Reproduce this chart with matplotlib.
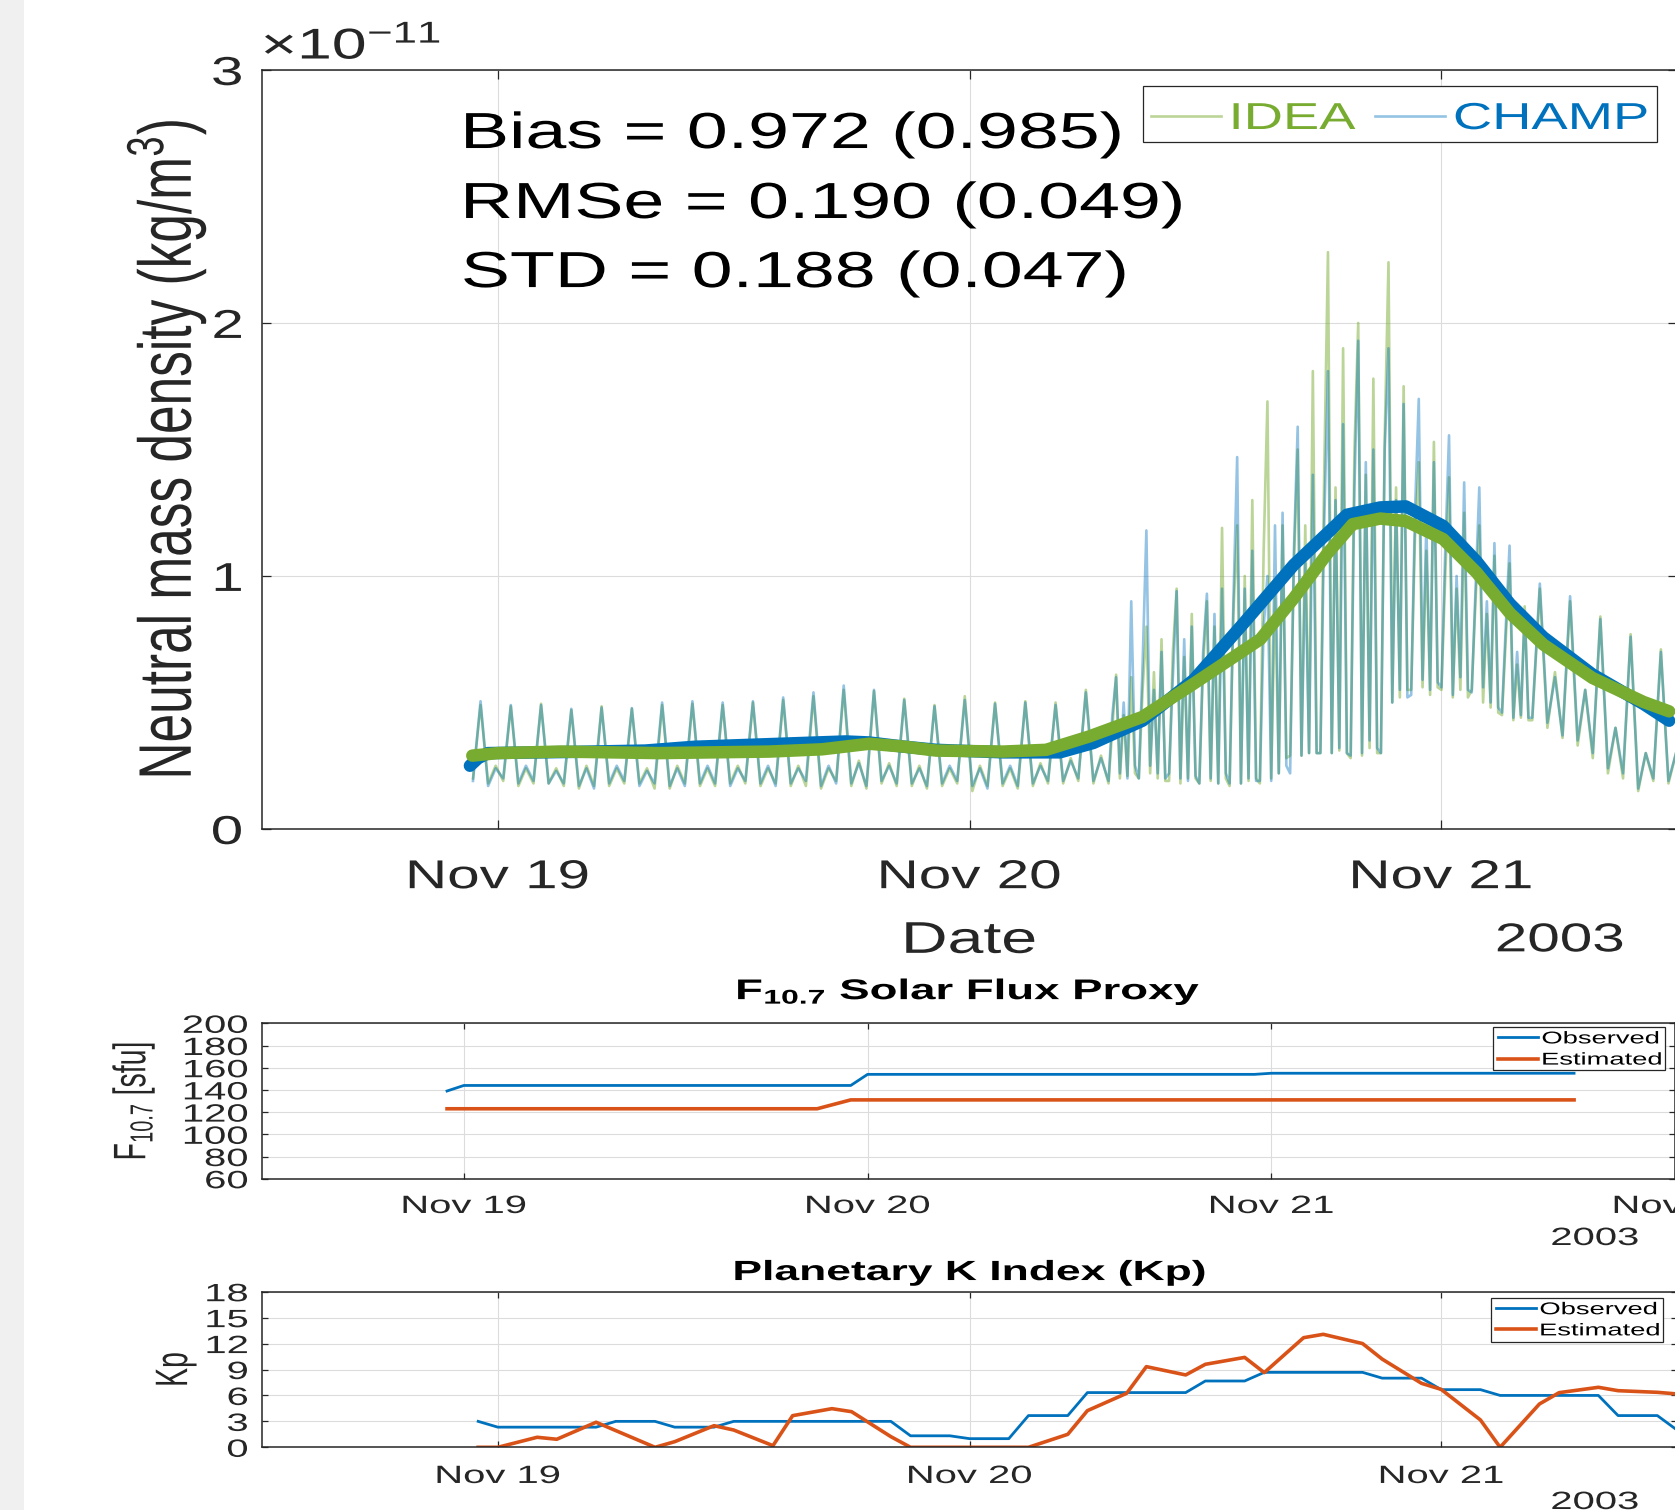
import numpy as np
import matplotlib
matplotlib.use('Agg')
import matplotlib.pyplot as plt
import matplotlib.dates as mdates
from matplotlib.ticker import ScalarFormatter
from matplotlib.patheffects import AbstractPathEffect
from matplotlib.transforms import Affine2D
from matplotlib.patches import Rectangle

plt.rcParams['font.family'] = ['Liberation Sans', 'DejaVu Sans']
plt.rcParams['mathtext.fontset'] = 'custom'
plt.rcParams['mathtext.rm'] = 'Liberation Sans'
plt.rcParams['mathtext.it'] = 'Liberation Sans:italic'
plt.rcParams['mathtext.bf'] = 'Liberation Sans:bold'

# ---------------------------------------------------------------- DATA
BASE = np.datetime64('2003-11-19T00:00')

# main panel: neutral mass density in units of 1e-11 kg/m^3
orbit_period_h = 1.54
first_sample_h = -1.265
# each row = one orbit, samples evenly spaced within the orbit
# quiet orbits: [trough before, peak, trough after, secondary bump]
# storm orbits: 8 samples per orbit (peak at the 3rd sample)
champ_orbits = [
    [0.19, 0.505, 0.17, 0.24], [0.20, 0.490, 0.18, 0.25], [0.19, 0.490, 0.18, 0.23],
    [0.18, 0.475, 0.17, 0.24], [0.16, 0.480, 0.18, 0.25], [0.19, 0.478, 0.17, 0.23],
    [0.18, 0.500, 0.17, 0.24], [0.17, 0.505, 0.18, 0.25], [0.18, 0.500, 0.17, 0.24],
    [0.19, 0.505, 0.18, 0.25], [0.17, 0.520, 0.18, 0.24], [0.19, 0.540, 0.17, 0.25],
    [0.18, 0.567, 0.18, 0.26], [0.17, 0.550, 0.19, 0.25], [0.18, 0.510, 0.18, 0.24],
    [0.17, 0.485, 0.18, 0.25], [0.19, 0.510, 0.17, 0.24], [0.16, 0.495, 0.18, 0.25],
    [0.17, 0.500, 0.18, 0.25], [0.19, 0.490, 0.19, 0.27], [0.20, 0.540, 0.19, 0.28],
    [0.19, 0.45, 0.60, 0.22, 0.50, 0.20, 0.90, 0.25],
    [0.20, 0.65, 1.18, 0.25, 0.55, 0.22, 0.70, 0.20],
    [0.22, 0.60, 0.94, 0.20, 0.75, 0.19, 0.80, 0.21],
    [0.18, 0.70, 0.93, 0.20, 0.85, 0.18, 0.95, 0.22],
    [0.18, 0.90, 1.47, 0.18, 0.95, 0.20, 1.10, 0.19],
    [0.19, 0.80, 1.00, 0.19, 1.20, 0.22, 1.25, 0.25],
    [0.22, 1.10, 1.59, 0.29, 1.05, 0.30, 1.40, 0.30],
    [0.30, 1.20, 1.81, 0.30, 1.30, 0.32, 1.60, 0.30],
    [0.29, 1.35, 1.93, 0.30, 1.45, 0.35, 1.50, 0.32],
    [0.30, 1.50, 1.90, 0.50, 1.30, 0.55, 1.68, 0.52],
    [0.53, 1.25, 1.70, 0.59, 1.20, 0.55, 1.45, 0.58],
    [0.56, 1.10, 1.556, 0.53, 1.00, 0.60, 1.37, 0.55],
    [0.54, 0.95, 1.35, 0.56, 0.90, 0.50, 1.13, 0.48],
    [0.46, 0.80, 1.12, 0.44, 0.70, 0.45, 0.86, 0.44],
    [0.44, 0.970, 0.42, 0.60], [0.37, 0.920, 0.35, 0.55], [0.30, 0.830, 0.24, 0.40],
    [0.22, 0.760, 0.16, 0.30], [0.20, 0.700, 0.19, 0.30],
]
idea_orbits = [
    [0.20, 0.490, 0.18, 0.25], [0.19, 0.485, 0.17, 0.24], [0.18, 0.495, 0.18, 0.24],
    [0.17, 0.470, 0.16, 0.25], [0.17, 0.485, 0.17, 0.24], [0.18, 0.475, 0.18, 0.24],
    [0.16, 0.490, 0.16, 0.25], [0.18, 0.495, 0.17, 0.24], [0.17, 0.490, 0.18, 0.25],
    [0.18, 0.500, 0.17, 0.24], [0.18, 0.510, 0.17, 0.25], [0.17, 0.525, 0.16, 0.24],
    [0.19, 0.550, 0.17, 0.27], [0.16, 0.545, 0.18, 0.26], [0.17, 0.515, 0.17, 0.25],
    [0.16, 0.490, 0.17, 0.24], [0.18, 0.525, 0.15, 0.25], [0.17, 0.500, 0.17, 0.24],
    [0.16, 0.505, 0.17, 0.26], [0.18, 0.500, 0.18, 0.28], [0.19, 0.550, 0.18, 0.29],
    [0.18, 0.40, 0.61, 0.20, 0.45, 0.21, 0.60, 0.22],
    [0.20, 0.55, 0.80, 0.22, 0.62, 0.20, 0.75, 0.19],
    [0.19, 0.70, 0.95, 0.18, 0.68, 0.20, 0.85, 0.20],
    [0.18, 0.65, 0.90, 0.19, 0.80, 0.18, 1.19, 0.20],
    [0.17, 0.85, 1.20, 0.18, 1.00, 0.19, 1.30, 0.20],
    [0.18, 1.10, 1.69, 0.20, 0.95, 0.22, 1.20, 0.28],
    [0.29, 1.05, 1.50, 0.29, 1.20, 0.30, 1.81, 0.30],
    [0.30, 1.40, 2.28, 0.30, 1.35, 0.31, 1.90, 0.30],
    [0.28, 1.50, 2.00, 0.29, 1.40, 0.32, 1.78, 0.30],
    [0.30, 1.55, 2.24, 0.50, 1.35, 0.52, 1.75, 0.55],
    [0.55, 1.15, 1.45, 0.56, 1.10, 0.53, 1.53, 0.56],
    [0.55, 1.00, 1.39, 0.52, 0.95, 0.55, 1.25, 0.52],
    [0.55, 0.90, 1.20, 0.50, 0.85, 0.48, 1.08, 0.46],
    [0.45, 0.75, 1.05, 0.43, 0.65, 0.44, 0.88, 0.43],
    [0.43, 0.950, 0.40, 0.62], [0.36, 0.900, 0.33, 0.55], [0.28, 0.840, 0.22, 0.40],
    [0.20, 0.770, 0.15, 0.30], [0.19, 0.710, 0.18, 0.30],
]
# smoothed (orbit averaged) curves, hours from 2003-11-19 00:00
champ_smooth_h = [-1.42, -1.0, -0.5, 4.0, 7.5, 10.0, 14.4, 17.7, 18.9, 20.6, 22.3,
                  25.7, 28.6, 30.3, 32.8, 35.4, 37.9, 40.5, 43.2, 44.9, 46.2, 48.1,
                  49.8, 51.5, 53.2, 55.7, 58.3, 59.6]
champ_smooth = [0.25, 0.28, 0.30, 0.305, 0.31, 0.325, 0.337, 0.346, 0.342, 0.326, 0.313,
                0.303, 0.303, 0.34, 0.428, 0.589, 0.809, 1.044, 1.242, 1.271, 1.275, 1.198,
                1.058, 0.89, 0.758, 0.611, 0.494, 0.428]
idea_smooth_h = [-1.3, 0.0, 3.2, 8.2, 13.8, 16.5, 18.9, 20.6, 22.3, 25.7, 27.9, 30.1,
                 32.8, 35.4, 38.8, 40.5, 42.2, 43.5, 44.9, 46.2, 48.1, 49.8, 51.5, 53.2,
                 55.7, 58.3, 59.6]
idea_smooth = [0.29, 0.30, 0.306, 0.30, 0.306, 0.315, 0.337, 0.326, 0.31, 0.306, 0.313,
               0.366, 0.443, 0.574, 0.75, 0.912, 1.088, 1.205, 1.227, 1.217, 1.146, 1.014,
               0.853, 0.729, 0.597, 0.502, 0.465]
stat_names = ['Bias', 'RMSe', 'STD']
stat_all = [0.972, 0.190, 0.188]
stat_quiet = [0.985, 0.049, 0.047]

# F10.7 panel (sfu), hours from 2003-11-19 00:00
f107_obs_h = [-1, 0, 23, 24, 47, 48, 66]
f107_obs = [139, 144, 144, 154, 154, 155, 155]
f107_est_h = [-1, 21, 23, 66]
f107_est = [123, 123, 131, 131]

# Kp panel, hours from 2003-11-19 00:00
kp_obs_h = [-1, 0, 5, 6, 8, 9, 11, 12, 20, 21, 23, 24, 26, 27, 29, 30, 35, 36, 38, 39,
            44, 45, 47, 48, 50, 51, 56, 57, 59, 60, 61]
kp_obs = [3.0, 2.33, 2.33, 3.0, 3.0, 2.33, 2.33, 3.0, 3.0, 1.33, 1.33, 1.0, 1.0, 3.67,
          3.67, 6.33, 6.33, 7.67, 7.67, 8.67, 8.67, 8.0, 8.0, 6.67, 6.67, 6.0, 6.0,
          3.67, 3.67, 2.0, 2.0]
kp_est_h = [-1, 0, 2, 3, 5, 8, 9, 11, 12, 14, 15, 17, 18, 20, 21, 27, 29, 30, 32, 33,
            35, 36, 38, 39, 41, 42, 44, 45, 47, 48, 50, 51, 53, 54, 56, 57, 59, 60, 61]
kp_est = [0, 0, 1.16, 0.93, 2.9, 0, 0.65, 2.5, 2.0, 0.19, 3.66, 4.47, 4.12, 1.23, 0, 0,
          1.5, 4.24, 6.25, 9.33, 8.37, 9.6, 10.4, 8.64, 12.68, 13.07, 12.0, 10.2, 7.4,
          6.7, 3.16, 0, 5.01, 6.32, 6.94, 6.55, 6.36, 6.17, 6.0]
year_label = '2003'

# ---------------------------------------------------------------- STYLE
GREEN = '#77AC30'
BLUE = '#0072BD'
ORANGE = '#D95319'
AXC = '#262626'
GRIDC = '#dcdcdc'
SX_MAIN = 1.45
SX_LOW = 1.6
W, H = 1675, 1510


class StretchX(AbstractPathEffect):
    """Draw text glyphs horizontally stretched (the reference image is stretched)."""
    def __init__(self, sx, anchor='center'):
        super().__init__()
        self._sx = sx
        self._anchor = anchor

    def draw_path(self, renderer, gc, tpath, affine, rgbFace=None):
        ext = tpath.transformed(affine).get_extents()
        if not np.all(np.isfinite([ext.x0, ext.x1])):
            renderer.draw_path(gc, tpath, affine, rgbFace)
            return
        if self._anchor == 'left':
            a = ext.x0
        elif self._anchor == 'right':
            a = ext.x1
        else:
            a = 0.5 * (ext.x0 + ext.x1)
        post = Affine2D().translate(-a, 0).scale(self._sx, 1).translate(a, 0)
        renderer.draw_path(gc, tpath, affine + post, rgbFace)


def stretch(txt, sx, anchor='center'):
    txt.set_path_effects([StretchX(sx, anchor)])


def to_dt(hours):
    return BASE + (np.asarray(hours, float) * 3600).astype('timedelta64[s]')


def orbit_series(rows):
    t, v = [], []
    for k, row in enumerate(rows):
        n = len(row)
        for j, val in enumerate(row):
            t.append(first_sample_h + k * orbit_period_h + j * orbit_period_h / n)
            v.append(val)
    return np.array(t), np.array(v)


def fig_rect(l, t, r, b):
    return [l / W, 1 - b / H, (r - l) / W, (b - t) / H]


fig = plt.figure(figsize=(W / 100, H / 100), dpi=100)
fig.patch.set_facecolor('white')
fig.add_artist(Rectangle((0, 0), 24 / W, 1, transform=fig.transFigure,
                         facecolor='#f0f0f0', edgecolor='none', zorder=0))

ax = fig.add_axes(fig_rect(262, 70, 1677, 829))
ax_f = fig.add_axes(fig_rect(262, 1023.3, 1675, 1178.7))
ax_k = fig.add_axes(fig_rect(262, 1291.7, 1677, 1447.3))


def style_axes(a, labelsize, ticklen, xpad, ypad):
    a.set_facecolor('white')
    a.grid(True, color=GRIDC, lw=0.8)
    a.set_axisbelow(True)
    for s in a.spines.values():
        s.set_color(AXC)
        s.set_linewidth(1.1)
    a.tick_params(direction='in', top=True, right=True, length=ticklen, width=0.9,
                  colors=AXC, labelsize=labelsize)
    a.tick_params(axis='x', pad=xpad)
    a.tick_params(axis='y', pad=ypad)
    a.xaxis.set_major_locator(mdates.DayLocator())
    a.xaxis.set_major_formatter(mdates.DateFormatter('%b %d'))


# ---------------------------------------------------------------- MAIN PANEL
t_champ, champ_thin = orbit_series(champ_orbits)
t_idea, idea_thin = orbit_series(idea_orbits)

l_idea, = ax.plot(to_dt(t_idea), idea_thin * 1e-11, color=GREEN, alpha=0.5, lw=1.9,
                  label='IDEA')
l_champ, = ax.plot(to_dt(t_champ), champ_thin * 1e-11, color=BLUE, alpha=0.42, lw=1.9,
                   label='CHAMP')
ax.plot(to_dt(champ_smooth_h), np.array(champ_smooth) * 1e-11, color=BLUE, lw=9,
        solid_capstyle='round', solid_joinstyle='round')
ax.plot(to_dt(idea_smooth_h), np.array(idea_smooth) * 1e-11, color=GREEN, lw=9,
        solid_capstyle='round', solid_joinstyle='round')

style_axes(ax, 29, 6.5, 21, 13.7)
ax.set_xlim(to_dt(-12), to_dt(60))
ax.set_ylim(0, 3e-11)
ax.set_yticks([0, 1e-11, 2e-11, 3e-11])
fmt = ScalarFormatter(useMathText=True)
ax.yaxis.set_major_formatter(fmt)
ax.yaxis.get_offset_text().set_fontsize(31)
ax.yaxis.get_offset_text().set_color(AXC)
ax.yaxis.OFFSETTEXTPAD = 8

ax.set_ylabel('Neutral mass density (kg/m$^{3}$)', fontsize=37, va='center', color=AXC)
ax.yaxis.set_label_coords(-0.0678, 0.5)
ax.set_xlabel('Date', fontsize=32, va='center', color=AXC)
ax.xaxis.set_label_coords(0.5, -0.148)
t_year_main = ax.text(0.9173, -0.1467, year_label, transform=ax.transAxes, ha='center',
                      va='center', fontsize=29, color=AXC)

stat_y = [0.8972, 0.8050, 0.7140]
stat_texts = []
for name, v1, v2, yy in zip(stat_names, stat_all, stat_quiet, stat_y):
    stat_texts.append(ax.text(0.1413, yy, f'{name} = {v1:.3f} ({v2:.3f})', transform=ax.transAxes,
                              ha='left', va='baseline', fontsize=36.5, color='black'))

leg = ax.legend(handles=[l_idea, l_champ], labels=['IDEA', 'CHAMP'], ncol=2,
                loc='center left', bbox_to_anchor=(1151 / W, 1 - 119 / H),
                bbox_transform=fig.transFigure, frameon=False, fontsize=27,
                handlelength=1.87, handletextpad=0.24, columnspacing=1.52,
                borderpad=0, borderaxespad=0)
for t, c in zip(leg.get_texts(), [GREEN, BLUE]):
    t.set_color(c)
ax.add_patch(Rectangle((1143 / W, 1 - 142 / H), (1657 - 1143) / W, (142 - 86) / H,
                       transform=fig.transFigure, facecolor='white', edgecolor=AXC,
                       lw=0.9, zorder=4.9, clip_on=False))

# ---------------------------------------------------------------- F10.7 PANEL
ax_f.plot(to_dt(f107_obs_h), f107_obs, color=BLUE, lw=2.0, label='Observed')
ax_f.plot(to_dt(f107_est_h), f107_est, color=ORANGE, lw=2.6, label='Estimated')
style_axes(ax_f, 18, 4.3, 11, 10)
ax_f.set_xlim(to_dt(-12), to_dt(72))
ax_f.set_ylim(60, 200)
ax_f.set_yticks(np.arange(60, 201, 20))
ax_f.set_title(r'$\mathbf{F}_{\mathbf{10.7}}$ Solar Flux Proxy', fontsize=20.5,
               fontweight='bold', pad=17.3)
ax_f.set_ylabel(r'$\mathrm{F}_{10.7}$ [sfu]', fontsize=20.5, va='center', color=AXC)
ax_f.yaxis.set_label_coords((134 - 262) / 1413, 0.5)
t_year_f = ax_f.text((1595 - 262) / 1413, -(1238 - 1178.7) / 155.4, year_label,
                     transform=ax_f.transAxes, ha='center', va='center', fontsize=18, color=AXC)
leg_f = ax_f.legend(loc='center left', bbox_to_anchor=(1498 / W, 1 - 1049.5 / H),
                    bbox_transform=fig.transFigure, frameon=False, fontsize=12.3,
                    handlelength=2.34, handletextpad=0.23, labelspacing=0.36,
                    borderpad=0, borderaxespad=0)
ax_f.add_patch(Rectangle((1493 / W, 1 - 1070 / H), (1664.5 - 1493) / W, (1070 - 1026.7) / H,
                         transform=fig.transFigure, facecolor='white', edgecolor=AXC,
                         lw=0.9, zorder=4.9, clip_on=False))

# ---------------------------------------------------------------- Kp PANEL
ax_k.plot(to_dt(kp_obs_h), kp_obs, color=BLUE, lw=2.0, label='Observed')
ax_k.plot(to_dt(kp_est_h), kp_est, color=ORANGE, lw=2.6, label='Estimated')
style_axes(ax_k, 18, 4.3, 12, 10)
ax_k.set_xlim(to_dt(-12), to_dt(60))
ax_k.set_ylim(0, 18)
ax_k.set_yticks(np.arange(0, 19, 3))
ax_k.set_title('Planetary K Index (Kp)', fontsize=20, fontweight='bold', pad=8.4)
ax_k.set_ylabel('Kp', fontsize=20.5, va='center', color=AXC)
ax_k.yaxis.set_label_coords((176 - 262) / 1415, 0.5)
t_year_k = ax_k.text((1595 - 262) / 1415, -(1502 - 1447.3) / 155.6, year_label,
                     transform=ax_k.transAxes, ha='center', va='center', fontsize=18, color=AXC)
leg_k = ax_k.legend(loc='center left', bbox_to_anchor=(1496 / W, 1 - 1320.3 / H),
                    bbox_transform=fig.transFigure, frameon=False, fontsize=12.3,
                    handlelength=2.34, handletextpad=0.23, labelspacing=0.36,
                    borderpad=0, borderaxespad=0)
ax_k.add_patch(Rectangle((1490.8 / W, 1 - 1341.7 / H), (1662.9 - 1490.8) / W,
                         (1341.7 - 1298.3) / H, transform=fig.transFigure,
                         facecolor='white', edgecolor=AXC, lw=0.9, zorder=4.9, clip_on=False))

# ---------------------------------------------------------------- text stretching
fig.canvas.draw()
for a, sx in [(ax, SX_MAIN), (ax_f, SX_LOW), (ax_k, SX_LOW)]:
    for tk in a.xaxis.get_major_ticks():
        stretch(tk.label1, sx, 'center')
        stretch(tk.label2, sx, 'center')
    for tk in a.yaxis.get_major_ticks():
        stretch(tk.label1, sx, 'right')
        stretch(tk.label2, sx, 'left')
    stretch(a.yaxis.label, sx, 'center')
    stretch(a.xaxis.label, sx, 'center')
    stretch(a.title, sx, 'center')
stretch(ax.yaxis.get_offset_text(), SX_MAIN, 'left')
for t in stat_texts:
    stretch(t, SX_MAIN, 'left')
for t in leg.get_texts():
    stretch(t, SX_MAIN, 'left')
for t in leg_f.get_texts() + leg_k.get_texts():
    stretch(t, SX_LOW, 'left')
stretch(t_year_main, SX_MAIN, 'center')
stretch(t_year_f, SX_LOW, 'center')
stretch(t_year_k, SX_LOW, 'center')

fig.savefig('out.png', dpi=100, facecolor='white')
